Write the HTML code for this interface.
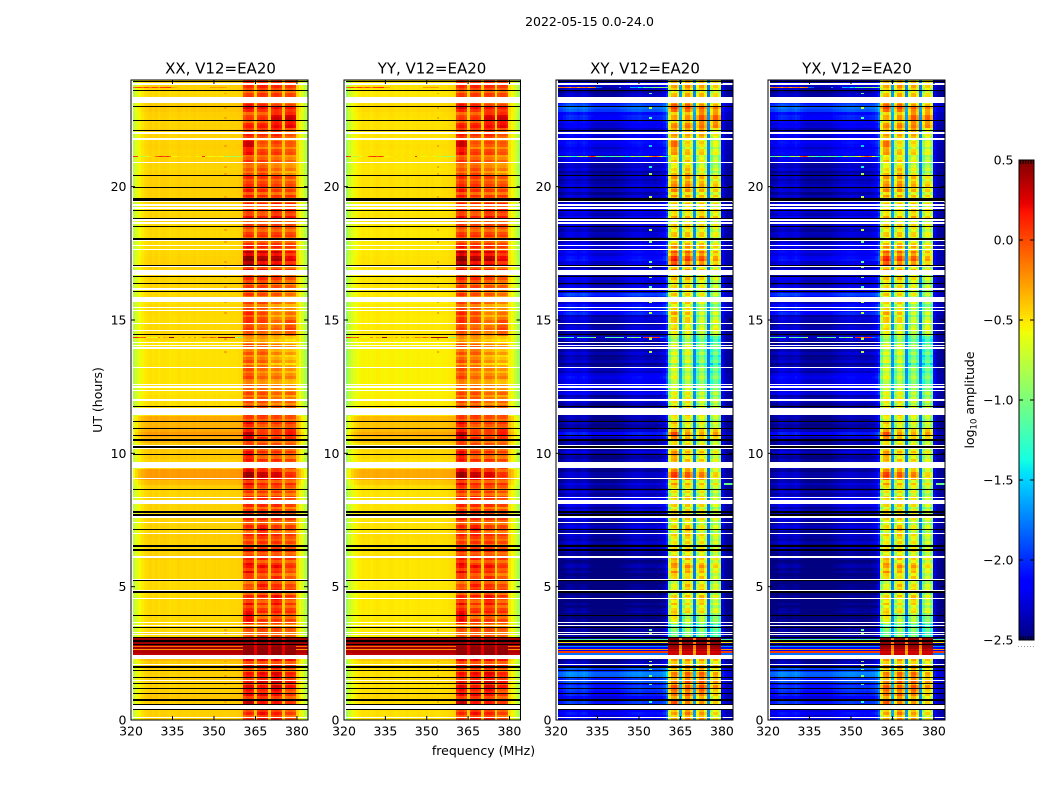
<!DOCTYPE html>
<html lang="en">
<head>
<meta charset="utf-8">
<title>2022-05-15 0.0-24.0</title>
<style>
html,body{margin:0;padding:0;background:#fff;}
svg{display:block;}
text{font-family:"DejaVu Sans","Liberation Sans",sans-serif;fill:#000;}
</style>
</head>
<body>
<svg id="chart" xmlns="http://www.w3.org/2000/svg" width="1050" height="800" viewBox="0 0 1050 800">
  <text x="589.5" y="26" font-size="12.5" text-anchor="middle">2022-05-15 0.0-24.0</text>
  <text x="220.5" y="73.5" font-size="15" text-anchor="middle">XX, V12=EA20</text>
  <text x="432" y="73.5" font-size="15" text-anchor="middle">YY, V12=EA20</text>
  <text x="645" y="73.5" font-size="15" text-anchor="middle">XY, V12=EA20</text>
  <text x="857" y="73.5" font-size="15" text-anchor="middle">YX, V12=EA20</text>
  <text x="0" y="0" font-size="12.5" text-anchor="middle" transform="translate(102 400) rotate(-90)">UT (hours)</text>
  <text x="483.5" y="755" font-size="12.5" text-anchor="middle">frequency (MHz)</text>
  <text x="0" y="0" font-size="12.5" text-anchor="middle" transform="translate(974 400) rotate(-90)">log<tspan font-size="8.5" dy="2.5">10</tspan><tspan dy="-2.5"> amplitude</tspan></text>
  <g id="panels"></g>
  <g id="colorbar"></g>
</svg>
<script>
// ---- axes data ----
const xTickValues = [320, 335, 350, 365, 380];
const yTickValues = [0, 5, 10, 15, 20];
const colorTickValues = [0.5, 0.0, -0.5, -1.0, -1.5, -2.0, -2.5];
const colorTickLabels = ['0.5', '0.0', '\u22120.5', '\u22121.0', '\u22121.5', '\u22122.0', '\u22122.5'];

// ---- per-channel mean log10 amplitude (channels 320.6 .. 383.6 MHz) ----
const xxProfile = [-.78,-.66,-.58,-.52,-.49,-.47,-.45,-.47,-.45,-.48,-.46,-.45,-.46,-.48,-.47,-.47,-.45,-.46,-.47,-.46,-.47,-.46,-.45,-.47,-.46,-.46,-.45,-.46,-.46,-.45,-.46,-.45,-.46,-.46,-.46,-.45,-.45,-.45,-.44,-.43,-.08,-.01,-.01,-.06,-.42,-.07,-.02,-.02,-.07,-.42,-.07,-.02,-.02,-.07,-.42,-.08,-.05,-.05,-.10,-.46,-.56,-.68,-.80,-.88];
const yyProfile = [-.90,-.74,-.64,-.58,-.55,-.53,-.51,-.52,-.51,-.53,-.51,-.50,-.51,-.52,-.52,-.51,-.50,-.51,-.52,-.51,-.52,-.51,-.50,-.52,-.51,-.51,-.50,-.51,-.51,-.50,-.51,-.50,-.51,-.51,-.51,-.50,-.50,-.49,-.48,-.47,-.08,.00,.00,-.07,-.44,-.07,-.03,-.03,-.07,-.45,-.08,-.04,-.04,-.09,-.46,-.10,-.06,-.06,-.12,-.50,-.58,-.70,-.82,-.92];
const xyProfile = [-2.50,-2.48,-2.42,-2.36,-2.33,-2.35,-2.37,-2.40,-2.37,-2.33,-2.37,-2.43,-2.47,-2.50,-2.50,-2.50,-2.50,-2.50,-2.50,-2.50,-2.50,-2.49,-2.47,-2.45,-2.43,-2.40,-2.39,-2.37,-2.37,-2.35,-2.37,-2.39,-2.40,-2.40,-2.40,-2.41,-2.39,-2.37,-2.30,-2.10,-.90,-.55,-.50,-.72,-1.70,-.85,-.50,-.48,-.72,-1.75,-.88,-.56,-.54,-.78,-1.80,-.95,-.66,-.64,-.90,-2.25,-2.38,-2.44,-2.46,-2.46];
const yxProfile = [-2.50,-2.48,-2.44,-2.38,-2.35,-2.37,-2.39,-2.41,-2.39,-2.35,-2.39,-2.45,-2.48,-2.50,-2.50,-2.50,-2.50,-2.50,-2.50,-2.50,-2.50,-2.49,-2.48,-2.45,-2.43,-2.41,-2.39,-2.39,-2.37,-2.37,-2.37,-2.39,-2.40,-2.41,-2.40,-2.41,-2.39,-2.37,-2.30,-2.12,-.92,-.57,-.52,-.74,-1.70,-.87,-.52,-.50,-.74,-1.75,-.90,-.58,-.56,-.80,-1.80,-.97,-.68,-.66,-.92,-2.25,-2.38,-2.44,-2.46,-2.46];

// ---- per-time-row level offsets; row 0 = 23.8-24.0 h, each row spans 0.2 h ----
const band1Level = [
.05,.05,.00,.00,.15,.20,.02,.00,.08,.10,
.10,.25,.30,.12,-.02,.02,-.08,.00,.05,.05,
.15,.10,.05,.05,.05,.10,.05,.00,.02,.02,
.05,.20,.30,.45,.45,.20,.05,.05,.00,-.02,
.00,.00,.02,.05,.05,.05,.00,.05,-.30,-.05,
-.10,-.10,-.05,-.10,-.05,-.05,-.05,-.10,-.05,.00,
-.05,.05,.00,.05,.15,.10,.30,.15,.05,.15,
.25,.10,.00,.40,.40,.15,.10,.05,.05,.05,
.05,.10,.05,.05,.00,.05,.00,.05,.05,.10,
.20,.10,.20,.05,-.05,-.02,.05,.10,.15,.10,
.30,.15,-.05,-.05,-.08,.45,.45,.45,.30,.10,
.05,.10,.10,.15,.20,.15,.25,.10,.05,.05];
const band2Level = [
.05,.10,.05,.00,.10,.15,.05,.05,.10,.10,
.05,-.05,-.05,.00,-.05,.00,.00,.05,.02,.05,
.10,.05,.00,.05,.00,.05,.05,-.02,.02,.02,
.05,.15,.25,.35,.30,.15,.00,.05,.00,.00,
-.05,.00,-.02,-.05,-.02,.00,-.10,.00,-.30,-.10,
-.05,-.10,-.10,-.12,-.15,-.15,-.10,-.12,-.05,.00,
-.05,.05,.05,.05,.00,.00,.05,.05,.05,.05,
.05,.05,.05,.30,.30,.05,.05,.05,.08,.05,
.05,.05,.05,.10,.20,.10,.05,.05,.05,.10,
.05,.15,.10,.02,.15,.10,.10,.00,.05,.05,
.00,.05,.00,.00,.00,.45,.45,.45,.30,.10,
.10,.15,.20,.10,.15,.20,.10,.15,.15,.15];
const band3Level = [
.05,.08,.05,.00,.02,.15,.25,.25,.15,.20,
.10,.00,-.02,.00,-.10,-.08,-.12,-.10,.00,.00,
.05,.02,.05,.10,.12,.15,.10,.00,.02,.02,
.05,.15,.25,.35,.30,.10,.05,.00,-.05,-.08,
-.08,-.12,-.15,-.25,-.22,-.15,-.12,-.08,-.40,-.20,
-.25,-.25,-.25,-.28,-.20,-.18,-.15,-.18,-.15,-.10,
-.15,.00,.00,.02,.02,.02,.05,.00,.02,.05,
.05,.05,.00,.25,.25,.05,.05,.05,.05,.05,
.02,.05,.02,.00,.00,.05,.05,.05,.05,.05,
.10,.15,.10,.15,.08,.12,.15,.20,.15,.08,
.10,.05,-.02,.00,-.02,.45,.45,.45,.30,.10,
.15,.20,.25,.20,.25,.15,.10,.05,.10,.15];
const band4Level = [
.05,.05,.02,.00,.02,.15,.30,.30,.20,.05,
-.02,-.05,-.02,-.05,-.15,-.12,-.15,-.18,-.05,.00,
.05,.05,.02,.10,.12,.12,.08,.00,.00,.00,
.02,.10,.15,.22,.20,.05,-.02,-.05,-.08,-.12,
-.15,-.18,-.18,-.15,-.12,.00,.02,.05,-.45,-.25,
-.28,-.30,-.30,-.30,-.25,-.20,-.20,-.22,-.10,-.12,
-.10,.02,.00,.02,.05,.12,.18,.05,.00,.02,
.02,.00,-.02,.10,.10,.05,.02,.00,-.02,.00,
-.02,.00,.02,.00,.00,.02,.00,.00,.02,.05,
.05,.05,.00,.00,.02,.05,.05,.02,.05,.05,
.05,.02,-.05,-.05,-.08,.45,.45,.45,.30,.08,
.05,.10,.15,.12,.05,.05,.02,.02,.02,.02];
const crossHighLevel = [
.10,.10,.10,.10,.25,.25,.20,.15,.15,.15,
.10,.05,.05,.05,.05,.05,.10,.15,.15,.20,
.15,.10,.05,.00,.00,.00,.00,.05,.05,.00,
.05,.10,.05,.05,.05,.05,.00,.00,.00,.00,
.05,.05,.05,.10,.05,.00,.00,.00,.00,-.05,
-.05,-.05,-.05,-.10,-.10,-.10,-.05,-.05,-.05,.00,
.00,.00,.00,-.10,-.10,.05,.15,.00,.00,.05,
.05,.00,.00,.05,.05,.00,-.05,-.05,-.05,-.05,
-.05,-.05,-.05,-.05,-.05,-.05,-.05,-.05,-.05,.00,
.05,.05,.05,.00,-.05,-.05,-.05,-.05,-.10,-.10,
-.20,-.30,-.35,-.40,-.40,.00,.00,.00,.00,.10,
.15,.15,.15,.20,.20,.15,.10,.10,.10,.10];
// fine row-to-row ripple; two entries per row
const rippleLevel = [
.04,-.06,.08,-.04,-.10,.06,.10,.02,-.08,.05,.09,-.03,-.12,.03,.08,-.07,.05,.10,-.04,-.11,
.07,-.02,-.09,.08,.03,-.13,.06,.11,-.05,.02,.09,-.10,-.03,.07,-.12,.04,.10,-.06,.01,.08,
-.09,.05,-.14,.09,.03,-.05,.10,-.11,.06,.00,-.07,.11,-.03,-.12,.08,.04,-.09,.06,.12,-.05,
-.10,.07,.02,-.13,.09,-.04,.05,.10,-.08,.03,-.14,.08,.06,-.06,.11,-.02,-.11,.09,.02,-.07,
.10,-.09,.04,.07,-.12,.05,-.03,.11,-.10,.06,.08,-.13,.03,.09,-.05,-.08,.10,.01,-.12,.07,
.05,-.04,.11,-.10,-.02,.08,-.14,.06,.09,-.06,.03,.12,-.08,-.11,.07,.04,-.05,.10,-.13,.02,
.09,-.07,-.03,.11,-.12,.06,.04,-.09,.10,-.02,-.14,.08,.05,-.06,.12,-.10,.01,.07,-.08,.09,
-.04,-.12,.10,.03,-.07,.11,-.14,.05,.08,-.03,-.10,.12,.02,-.09,.06,-.12,.09,.04,-.05,.10,
-.13,.07,.03,-.08,.11,-.04,-.11,.09,.06,-.14,.10,.01,-.06,.08,-.10,.05,.12,-.07,-.02,.09,
-.12,.04,.10,-.05,.07,-.13,.02,.11,-.09,.06,-.03,.08,-.14,.10,.03,-.07,.09,-.11,.05,.12,
-.06,-.10,.08,.02,-.13,.11,.04,-.08,.07,-.04,.10,-.12,.06,.09,-.14,.03,.11,-.05,-.09,.08,
.01,-.11,.10,.05,-.07,.09,-.13,.12,.02,-.06,.08,-.10,.04,.11,-.12,.07,-.03,.09,-.08,.05];
const parallelLowLevel = [
.01,.02,.00,.00,.04,.05,.03,.02,.02,.03,
.02,.02,.03,.02,.02,.02,.01,.02,.03,.03,
.03,.03,.03,.00,.00,.02,.02,.00,.00,.00,
.00,.00,.01,.02,.03,.02,.02,.01,.02,.00,
.00,-.02,.00,.00,-.01,-.01,.00,.01,.00,-.03,
-.03,-.03,-.03,-.03,-.03,-.03,-.03,-.03,-.03,-.02,
-.02,.00,.00,.15,.12,.15,.20,.12,.05,.05,
.05,.03,.00,.20,.20,.10,.03,.02,.02,.02,
.02,.02,.02,.02,.02,.04,.03,.02,.02,.03,
.01,.01,.01,.01,.00,.00,.00,.00,.00,.00,
.00,.00,.00,.00,.01,.10,.10,.10,.10,.04,
.03,.03,.04,.03,.03,.06,.05,.05,.03,.03];
const crossLowLevel = [
.05,.10,.05,.00,.45,.55,.35,.30,.15,.10,
.20,.25,.25,.20,.15,.15,.08,.05,.05,.08,
.10,.08,.02,.15,.20,.15,.20,.10,.10,.05,
.15,.20,.22,.25,.20,.12,.05,.15,.10,.20,
.40,.10,.35,.30,.10,.05,.08,.05,.10,.00,
.05,.05,.05,.00,.10,.20,.25,.25,.15,.08,
.05,.00,.00,.02,.00,.05,.30,.05,.02,.10,
.05,.00,.00,.05,.05,.08,.05,.10,.15,.10,
.10,.05,.10,.10,.05,.05,.05,.05,.00,-.05,
-.05,-.05,-.05,-.08,-.10,-.05,-.10,-.10,-.10,-.08,
-.08,-.10,-.05,-.05,-.05,.00,.00,.00,.00,.10,
.55,.60,.45,.35,.40,.30,.35,.30,.25,.25];

// ---- strong burst around 2.4-3.1 h ----
const burstStartHour = [3.11,3.04,3.00,2.93,2.89,2.79,2.72,2.68,2.64,2.60,2.50];
const burstEndHour   = [3.04,3.00,2.93,2.89,2.79,2.72,2.68,2.64,2.60,2.50,2.44];
const burstParallelLow  = [.42,.42,.45,.42,.40,-.12,.42,-.22,.35,.38,.32];
const burstParallelHigh = [.45,.45,.48,.45,.45,.42,.45,.45,.45,.45,.45];
const burstCrossLow  = [-2.45,-1.15,-2.45,-.48,-2.40,-1.70,-2.20,-.25,-2.20,.05,-1.80];
const burstCrossHigh = [.46,.46,.50,.44,.48,.44,.42,.30,.40,.28,.30];

// ---- interference streaks: absolute values in channels 0-39, null = none ----
const rfiHours = [23.72, 21.13, 14.34, 1.00];
const rfiXX0 = [-.1,0,.05,-.1,.05,.05,-.15,.05,0,-.2,.05,.05,.1,.1,-.3,-.32,null,null,null,null,null,null,null,null,null,null,null,null,-.25,-.25,-.28,-.25,-.25,-.28,null,null,null,null,null,null];
const rfiXX1 = [.1,.05,-.7,-.8,-.75,-.6,-.5,-.45,-.1,.05,.1,-.05,.1,-.1,-.55,-.6,-.5,-.5,-.45,-.5,-.5,-.45,-.5,-.5,-.5,.1,-.5,-.55,-.6,-.55,-.5,-.55,-.6,-.9,-.7,-.8,-.85,-.9,-.8,-.85];
const rfiXX2 = [.15,.1,-.1,-.05,.0,-.5,-.6,-.55,-.6,-.2,-.5,-.3,-.4,.42,.4,-.4,-.45,-.5,-.3,-.55,-.3,-.5,-.2,-.5,-.4,-.1,-.2,-.3,.0,-.1,-.3,.4,.42,.42,.42,.42,.4,-.9,-.95,-1];
const rfiXX3 = [null,null,-.05,-.1,-.05,.0,-.05,-.1,-.05,.0,.0,-.05,-.05,.2,null,null,null,null,null,null,null,null,null,null,null,null,null,-.1,-.05,-.1,-.05,.05,.05,.1,.05,.05,.15,null,null,null];
const rfiXY0 = [-.2,-.1,-.1,-.15,-.3,-.1,-.1,-.3,-.15,-.15,-.1,-.3,-.2,-.15,-1.8,-1.9,null,null,null,null,null,null,-1.7,null,null,null,-1.6,-1.6,-1.7,-1.4,-1.5,-1.0,-1.1,-1.2,-1,-.9,-1,-.9,-.9,-1.1];
const rfiXY1 = [-1.2,-1.2,-1,-.9,-1.1,-1.3,-1.4,-.9,-.7,-1.1,-.8,-.1,.1,-.1,-1,-1,-1.2,-1.3,-1.4,-1.1,-1.2,-1,-1.2,-1,-1.3,-1.4,-1,-.7,-1.1,-.9,-1,-.7,-.6,-.3,-.1,.0,-.2,-.6,-1.3,-1.5];
const rfiXY2 = [-1.2,-1.1,-1.1,-1.2,-1.15,-1.2,null,-1.1,-1.05,-1.1,-1.2,-1.1,-1.1,-.6,null,null,null,-1.2,-1.1,-1.15,-1.2,-1.1,-1.05,-1.1,null,-1.0,-1.1,-.9,-.9,-1.0,null,.1,.05,-.3,.1,.05,.1,-1.7,-1.9,null];
const rfiXY3 = [-1.3,-1.3,-1.2,-.6,-.55,-.6,-.55,-.6,-.6,-.95,-1,-.9,-1,-.95,null,null,null,-1.3,-1.2,-1.25,-1.3,-1.2,-1.2,-1.0,-1.05,-.9,-.95,-1,-.95,-.9,-.1,-.05,.05,.0,-.05,.05,.1,-1.6,null,null];

// ---- narrow channel-34 spike: hours where it shows ----
const spikeHours = [23.5,22.96,22.58,21.52,20.74,20.48,19.61,18.64,18.38,17.93,17.18,16.99,16.61,16.24,15.65,15.26,14.29,13.8,3.38,3.26,2.19,2.06,1.88,1.65,1.35,.68];
const spikeParallel = -0.3;
const spikeCross = [-1.1,-.75,-1.2,-1.5,-1.4,-.9,-.75,-1,-.75,-1,-1.1,-.9,-1,-1.2,-.8,-.75,-.85,-.8,-1.1,-.9,-.8,-.85,-1,-1,-1.2,-1.3];

// ---- small isolated spots at the high-frequency edge ----
const edgeSpotHours = [19.5,19.4,19.3,8.85,8.85,8.85,8.85];
const edgeSpotChannels = [63,63,63,60,61,62,63];
const edgeSpotParallel = [.1,.1,.1,null,null,null,null];
const edgeSpotCross = [-.7,-.7,-.9,-1.1,-1.0,-1.1,-1.0];

// ---- flagged time ranges ----
const whiteFlagStart = [23.89,23.36,22.05,21.81,20.94,19.46,19.35,19.24,18.79,18.66,18.02,17.82,17.67,17.03,16.89,16.2,15.86,15.5,15.39,14.9,14.63,14.19,14.06,13.97,13.25,12.6,12.51,12.39,12.02,11.69,11.61,10.33,10.2,9.68,9.09,8.36,8.26,7.65,7.44,7.02,6.15,5.3,4.88,4.59,3.69,3.57,3.31,3.23,2.44,2.11,1.51,.55,.12];
const whiteFlagEnd   = [23.83,23.14,21.99,21.75,20.89,19.41,19.29,19.18,18.73,18.60,17.96,17.78,17.63,16.97,16.69,16.13,15.68,15.45,15.34,14.85,14.58,14.14,14.01,13.91,13.2,12.55,12.46,12.34,11.96,11.64,11.44,10.29,10.15,9.46,9.04,8.31,8.11,7.59,7.4,6.98,6.09,5.25,4.83,4.55,3.64,3.52,3.26,3.19,2.28,2.06,1.46,.42,.075];
const blackFlagStart = [23.96,23.64,23.04,22.5,22.14,20.45,20.0,19.56,19.14,18.81,18.54,18.06,17.08,16.66,16.4,16.09,14.49,11.79,11.22,10.96,10.69,10.54,10.29,9.99,8.67,7.84,7.73,7.17,6.57,6.41,5.25,4.83,3.94,3.5,3.11,3.0,2.85,2.01,1.89,1.62,1.4,1.2,1.02,.77,.61,.42];
const blackFlagEnd   = [23.91,23.59,22.99,22.45,22.09,20.4,19.95,19.48,19.09,18.77,18.5,18.01,17.03,16.61,16.35,16.05,14.44,11.74,11.18,10.91,10.64,10.46,10.2,9.94,8.63,7.78,7.65,7.13,6.5,6.34,5.2,4.78,3.89,3.45,3.08,2.93,2.81,1.96,1.84,1.58,1.35,1.15,.98,.72,.56,.38];

// ---- drawing ----
const SVGNS = 'http://www.w3.org/2000/svg';
const HOUR_TOP = 24, FREQ_MIN = 320, FREQ_MAX = 384, COLOR_MIN = -2.5, COLOR_MAX = 0.5;
const PLOT_TOP = 80, PLOT_BOTTOM = 720;
const CHANNEL_OFFSET = 0.6, ROW_SPAN = 0.2;
const panelDefs = [
  {id: 'xx', left: 131, right: 308, profile: xxProfile, cross: false, rfi: [rfiXX0, rfiXX1, rfiXX2, rfiXX3]},
  {id: 'yy', left: 344, right: 520.5, profile: yyProfile, cross: false, rfi: [rfiXX0, rfiXX1, rfiXX2, rfiXX3]},
  {id: 'xy', left: 556, right: 733, profile: xyProfile, cross: true, rfi: [rfiXY0, rfiXY1, rfiXY2, rfiXY3]},
  {id: 'yx', left: 768, right: 945, profile: yxProfile, cross: true, rfi: [rfiXY0, rfiXY1, rfiXY2, rfiXY3]}
];
const highBands = [band1Level, band2Level, band3Level, band4Level];

function yScale(hour) {
  return PLOT_BOTTOM - (hour / HOUR_TOP) * (PLOT_BOTTOM - PLOT_TOP);
}
function xScale(panel, freq) {
  return panel.left + (freq - FREQ_MIN) / (FREQ_MAX - FREQ_MIN) * (panel.right - panel.left);
}
function colorT(value) {
  return Math.max(0, Math.min(1, (value - COLOR_MIN) / (COLOR_MAX - COLOR_MIN)));
}
function lerpStops(stops, t) {
  for (let i = 1; i < stops.length; i++) {
    if (t <= stops[i][0]) {
      const a = stops[i - 1], b = stops[i];
      return a[1] + (b[1] - a[1]) * (t - a[0]) / (b[0] - a[0]);
    }
  }
  return stops[stops.length - 1][1];
}
const jetR = [[0,0],[.35,0],[.66,1],[.89,1],[1,.5]];
const jetG = [[0,0],[.125,0],[.375,1],[.64,1],[.91,0],[1,0]];
const jetB = [[0,.5],[.11,1],[.34,1],[.65,0],[1,0]];
function jet(value) {
  const t = colorT(value);
  return 'rgb(' + Math.round(255 * lerpStops(jetR, t)) + ',' + Math.round(255 * lerpStops(jetG, t)) + ',' + Math.round(255 * lerpStops(jetB, t)) + ')';
}
function bandOf(channel) {
  if (channel >= 40 && channel <= 43) return 0;
  if (channel >= 45 && channel <= 48) return 1;
  if (channel >= 50 && channel <= 53) return 2;
  if (channel >= 55 && channel <= 58) return 3;
  return -1;
}
function cellValue(panel, row, half, channel) {
  const band = bandOf(channel);
  const base = panel.profile[channel];
  const ripple = rippleLevel[2 * row + half];
  if (band >= 0) {
    if (panel.cross) return base + 1.2 * highBands[band][row] + crossHighLevel[row] + 1.2 * ripple;
    return base + highBands[band][row] + ripple;
  }
  if (channel === 44 || channel === 49 || channel === 54) {
    return base + (panel.cross ? 0.3 * crossLowLevel[row] : parallelLowLevel[row]);
  }
  if (channel >= 59) {
    return base + (panel.cross ? 0.3 * crossLowLevel[row] : parallelLowLevel[row]);
  }
  return base + (panel.cross ? crossLowLevel[row] + 0.6 * ripple : parallelLowLevel[row]);
}
function channelLeft(panel, channel) {
  return Math.round(Math.min(panel.right, xScale(panel, FREQ_MIN + CHANNEL_OFFSET + channel)));
}
function makeRect(parent, x, y, w, h, fill) {
  const r = document.createElementNS(SVGNS, 'rect');
  r.setAttribute('x', x);
  r.setAttribute('y', y);
  r.setAttribute('width', w);
  r.setAttribute('height', h);
  r.setAttribute('fill', fill);
  r.setAttribute('shape-rendering', 'crispEdges');
  parent.appendChild(r);
  return r;
}
function drawCell(parent, panel, channel, startHour, endHour, value) {
  const x0 = channelLeft(panel, channel);
  const x1 = channelLeft(panel, channel + 1);
  const y0 = Math.round(yScale(startHour));
  const y1 = Math.max(y0 + 1, Math.round(yScale(endHour)));
  const r = makeRect(parent, x0, y0, x1 - x0, y1 - y0, jet(value));
  
  
}
function drawLine(parent, x1, y1, x2, y2) {
  const l = document.createElementNS(SVGNS, 'line');
  l.setAttribute('x1', x1);
  l.setAttribute('y1', y1);
  l.setAttribute('x2', x2);
  l.setAttribute('y2', y2);
  l.setAttribute('stroke', '#000');
  l.setAttribute('stroke-width', '1');
  parent.appendChild(l);
  return l;
}
function drawText(parent, x, y, anchor, content) {
  const t = document.createElementNS(SVGNS, 'text');
  t.setAttribute('x', x);
  t.setAttribute('y', y);
  t.setAttribute('font-size', '12.5');
  t.setAttribute('text-anchor', anchor);
  t.textContent = content;
  parent.appendChild(t);
  return t;
}

function drawPanel(panel) {
  const g = document.createElementNS(SVGNS, 'g');
  
  
  const left = channelLeft(panel, 0);
  const right = Math.round(panel.right);
  const width = right - left;

  // time rows, split in two half-rows where fine striping shows
  for (let row = 0; row < band1Level.length; row++) {
    const start = HOUR_TOP - row * ROW_SPAN;
    const mid = start - ROW_SPAN / 2;
    const end = start - ROW_SPAN;
    for (let c = 0; c < panel.profile.length; c++) {
      const split = panel.cross || bandOf(c) >= 0;
      if (split) {
        drawCell(g, panel, c, start, mid, cellValue(panel, row, 0, c));
        drawCell(g, panel, c, mid, end, cellValue(panel, row, 1, c));
      } else {
        drawCell(g, panel, c, start, end, cellValue(panel, row, 0, c));
      }
    }
  }
  // burst rows
  for (let b = 0; b < burstStartHour.length; b++) {
    for (let c = 0; c < panel.profile.length; c++) {
      const high = c >= 40 && c <= 58;
      const gap = c === 44 || c === 49 || c === 54;
      let v;
      if (panel.cross) v = high ? burstCrossHigh[b] - (gap ? 0.6 : 0) : burstCrossLow[b];
      else v = high ? burstParallelHigh[b] - (gap ? 0.2 : 0) : burstParallelLow[b];
      drawCell(g, panel, c, burstStartHour[b], burstEndHour[b], v);
    }
  }
  // interference streaks
  for (let k = 0; k < rfiHours.length; k++) {
    const vals = panel.rfi[k];
    for (let c = 0; c < vals.length; c++) {
      if (vals[c] !== null) {
        drawCell(g, panel, c, rfiHours[k] + 0.03, rfiHours[k] - 0.03, vals[c]);
      }
    }
  }
  // channel-34 spikes
  for (let s = 0; s < spikeHours.length; s++) {
    drawCell(g, panel, 33, spikeHours[s] + 0.03, spikeHours[s] - 0.03, panel.cross ? spikeCross[s] : spikeParallel);
  }
  // edge spots
  for (let s = 0; s < edgeSpotHours.length; s++) {
    const v = panel.cross ? edgeSpotCross[s] : edgeSpotParallel[s];
    if (v !== null) drawCell(g, panel, edgeSpotChannels[s], edgeSpotHours[s] + 0.03, edgeSpotHours[s] - 0.03, v);
  }
  // flagged time ranges
  for (let f = 0; f < whiteFlagStart.length; f++) {
    const y0 = Math.round(yScale(whiteFlagStart[f]));
    const y1 = Math.max(y0 + 1, Math.round(yScale(whiteFlagEnd[f])));
    const r = makeRect(g, left, y0, width, y1 - y0, '#fff');
    
    
  }
  for (let f = 0; f < blackFlagStart.length; f++) {
    const y0 = Math.round(yScale(blackFlagStart[f]));
    const y1 = Math.max(y0 + 1, Math.round(yScale(blackFlagEnd[f])));
    const r = makeRect(g, left, y0, width, y1 - y0, '#000');
    
    
  }

  // frame
  const frame = document.createElementNS(SVGNS, 'rect');
  frame.setAttribute('x', panel.left);
  frame.setAttribute('y', PLOT_TOP);
  frame.setAttribute('width', panel.right - panel.left);
  frame.setAttribute('height', PLOT_BOTTOM - PLOT_TOP);
  frame.setAttribute('fill', 'none');
  frame.setAttribute('stroke', '#000');
  frame.setAttribute('stroke-width', '1');
  
  
  g.appendChild(frame);

  // x ticks
  xTickValues.forEach(function (value) {
    const x = xScale(panel, value);
    const bottomTick = drawLine(g, x, PLOT_BOTTOM, x, PLOT_BOTTOM - 4);
    
    
    const topTick = drawLine(g, x, PLOT_TOP, x, PLOT_TOP + 4);
    
    
    const label = drawText(g, x, 735.5, 'middle', String(value));
    
    
  });
  // y ticks
  yTickValues.forEach(function (value) {
    const y = yScale(value);
    const leftTick = drawLine(g, panel.left, y, panel.left + 4, y);
    
    
    const rightTick = drawLine(g, panel.right, y, panel.right - 4, y);
    
    
    const label = drawText(g, panel.left - 4.5, y + 4.5, 'end', String(value));
    
    
  });
  document.getElementById('panels').appendChild(g);
}

function drawColorbar() {
  const g = document.getElementById('colorbar');
  const left = 1019, right = 1034, top = 160, bottom = 640;
  function cy(value) {
    return bottom - (value - COLOR_MIN) / (COLOR_MAX - COLOR_MIN) * (bottom - top);
  }
  for (let y = top; y < bottom; y += 2) {
    const v = COLOR_MIN + (bottom - y - 1) / (bottom - top) * (COLOR_MAX - COLOR_MIN);
    const r = makeRect(g, left, y, right - left, 2, jet(v));
    
    
  }
  const frame = document.createElementNS(SVGNS, 'rect');
  frame.setAttribute('x', left);
  frame.setAttribute('y', top);
  frame.setAttribute('width', right - left);
  frame.setAttribute('height', bottom - top);
  frame.setAttribute('fill', 'none');
  frame.setAttribute('stroke', '#000');
  frame.setAttribute('stroke-width', '1');
  
  
  g.appendChild(frame);
  colorTickValues.forEach(function (value, i) {
    const y = cy(value);
    const a = drawLine(g, left, y, left + 4, y);
    
    
    const b = drawLine(g, right, y, right - 4, y);
    
    
    const label = drawText(g, 1013.5, y + 4.5, 'end', colorTickLabels[i]);
    
    
  });
  for (let k = 0; k < 6; k++) {
    const x = left + 1.5 + k * 2.6;
    const t1 = drawLine(g, x, top, x, top + 4);
    
    
    const t2 = drawLine(g, x, bottom, x, bottom - 4);
    
    
    const dot = makeRect(g, Math.round(left - 1 + k * 3), 646, 1, 1, '#999');
    
    
  }
}

panelDefs.forEach(drawPanel);
drawColorbar();
</script>
</body>
</html>
